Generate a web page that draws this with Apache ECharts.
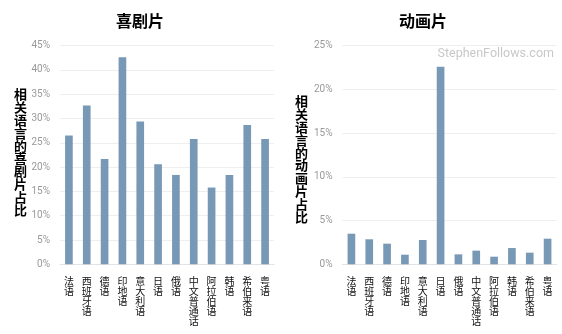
<!DOCTYPE html>
<html><head><meta charset="utf-8">
<script src="https://cdn.jsdelivr.net/npm/echarts@6/dist/echarts.min.js"></script>
<style>html,body{margin:0;padding:0;background:#fff}#c{width:562px;height:334px}</style>
</head><body><div id="c"></div>
<script>
const categories = ['法语','西班牙语','德语','印地语','意大利语','日语','俄语','中文普通话','阿拉伯语','韩语','希伯来语','粤语'];
const comedyValues = [26.5, 32.7, 21.7, 42.6, 29.4, 20.6, 18.4, 25.8, 15.8, 18.4, 28.7, 25.8];
const animationValues = [3.5, 2.86, 2.36, 1.1, 2.78, 22.6, 1.14, 1.56, 0.87, 1.86, 1.33, 2.93];
const comedyTitle = '喜剧片';
const animationTitle = '动画片';
const comedyYName = '相关语言的喜剧片占比';
const animationYName = '相关语言的动画片占比';
const watermark = 'StephenFollows.com';

const stack = s => s.split('').join('\n');
const barColor = '#7899b5';
const xCommon = {
  type: 'category', data: categories,
  axisLine: {lineStyle: {color: '#e3e3e3'}},
  axisTick: {show: false},
  axisLabel: {interval: 0, formatter: v => stack(v), color: '#111', fontSize: 10, lineHeight: 10, margin: 12, fontFamily: 'Noto Sans CJK SC', verticalAlign: 'top'}
};
const yCommon = {
  type: 'value', interval: 5, min: 0,
  axisLine: {show: false}, axisTick: {show: false},
  splitLine: {lineStyle: {color: '#eeeeee'}},
  axisLabel: {formatter: '{value}%', color: '#999', fontSize: 10, margin: 10, fontFamily: 'Roboto'}
};
const chart = echarts.init(document.getElementById('c'));
chart.setOption({
  animation: false,
  title: [
    {text: comedyTitle, left: 135, top: 8, textAlign: 'center', textStyle: {fontSize: 16, fontWeight: 'bold', color: '#000', fontFamily: 'Noto Sans CJK SC'}},
    {text: animationTitle, left: 418, top: 8, textAlign: 'center', textStyle: {fontSize: 16, fontWeight: 'bold', color: '#000', fontFamily: 'Noto Sans CJK SC'}}
  ],
  graphic: [
    {type: 'text', left: 14, top: 88, style: {text: stack(comedyYName), fontSize: 13, lineHeight: 12.8, fontWeight: 'bold', fill: '#000', fontFamily: 'Noto Sans CJK SC'}},
    {type: 'text', left: 295, top: 95, style: {text: stack(animationYName), fontSize: 13, lineHeight: 12.8, fontWeight: 'bold', fill: '#000', fontFamily: 'Noto Sans CJK SC'}},
    {type: 'text', right: 8, top: 47, style: {text: watermark, fontSize: 12.5, fill: '#c8c8c8', fontFamily: 'Roboto'}}
  ],
  grid: [
    {left: 60, width: 214, top: 45.7, height: 218.6},
    {left: 342.5, width: 214, top: 45.7, height: 218.6}
  ],
  xAxis: [
    Object.assign({gridIndex: 0}, xCommon),
    Object.assign({gridIndex: 1}, xCommon)
  ],
  yAxis: [
    Object.assign({gridIndex: 0, max: 45}, yCommon),
    Object.assign({gridIndex: 1, max: 25}, yCommon)
  ],
  series: [
    {type: 'bar', xAxisIndex: 0, yAxisIndex: 0, data: comedyValues, barWidth: '43%', itemStyle: {color: barColor}},
    {type: 'bar', xAxisIndex: 1, yAxisIndex: 1, data: animationValues, barWidth: '43%', itemStyle: {color: barColor}}
  ]
});
</script></body></html>
